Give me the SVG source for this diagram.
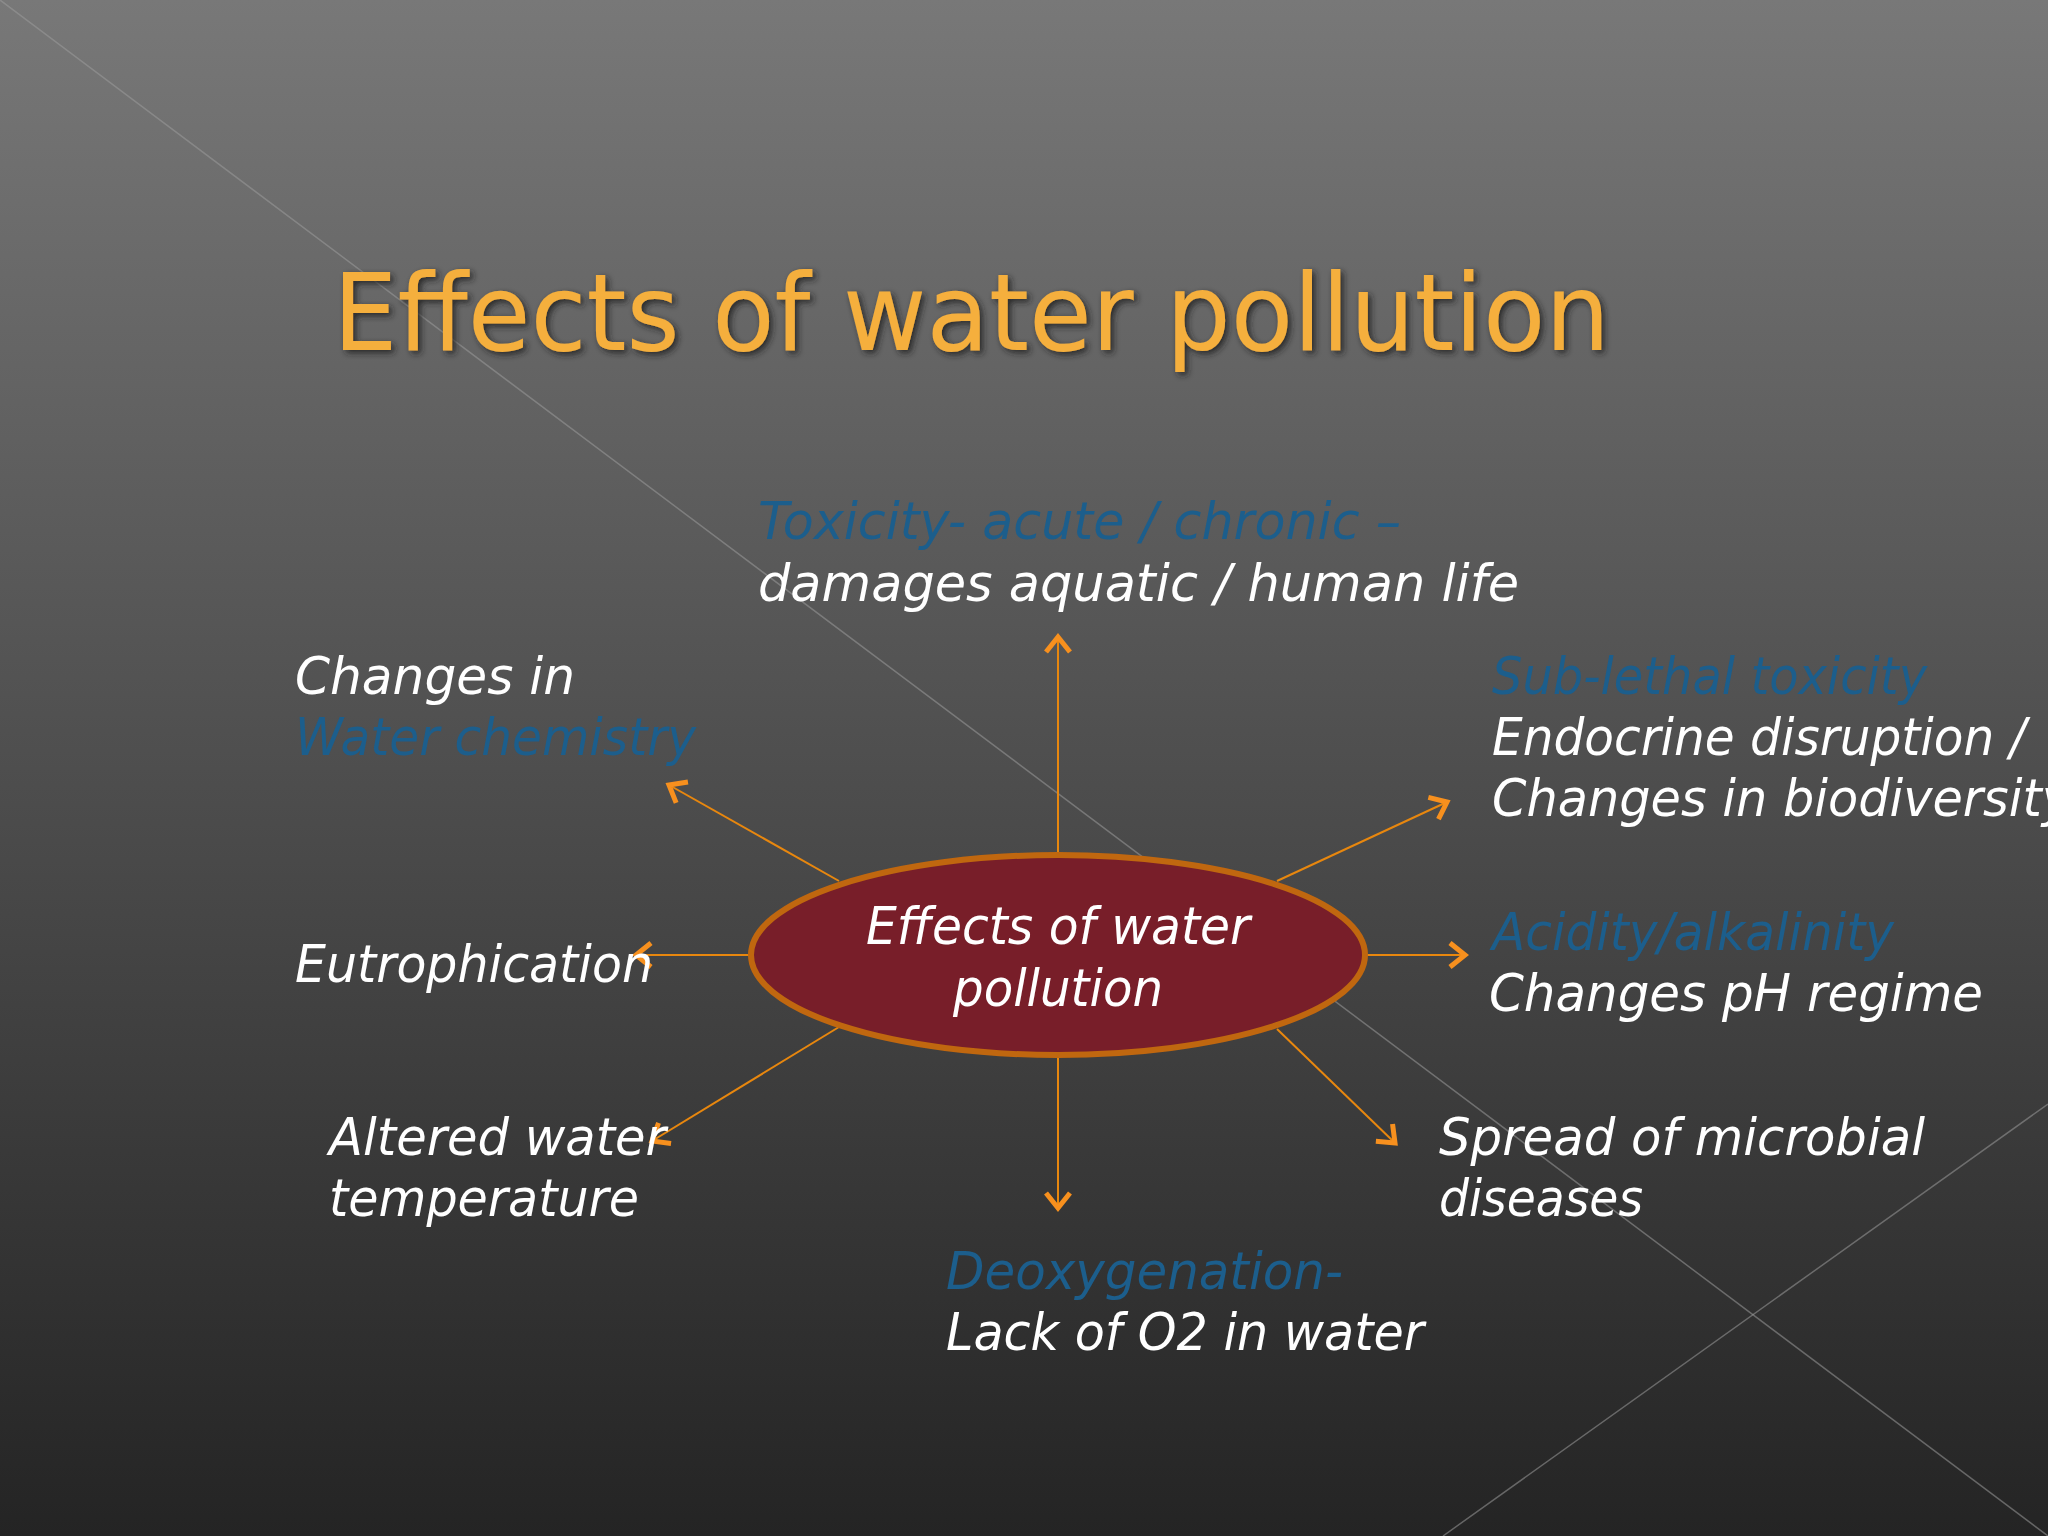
<svg xmlns="http://www.w3.org/2000/svg" width="2048" height="1536" viewBox="0 0 2048 1536">
<defs>
<linearGradient id="bg" x1="0" y1="0" x2="0" y2="1">
<stop offset="0" stop-color="#787878"/>
<stop offset="1" stop-color="#242424"/>
</linearGradient>
<filter id="shadow" x="-5%" y="-20%" width="110%" height="140%">
<feDropShadow dx="3" dy="3" stdDeviation="3" flood-color="#1a1a1a" flood-opacity="0.85"/>
</filter>
<marker id="chev" markerUnits="userSpaceOnUse" markerWidth="40" markerHeight="40" viewBox="-25 -20 40 40" refX="0" refY="0" orient="auto" overflow="visible">
<path d="M-15,-12 L0,0 L-15,12" fill="none" stroke="#F7901E" stroke-width="5"/>
</marker>
<style>
.lbl{font-family:"DejaVu Sans","Liberation Sans",sans-serif;font-style:italic;font-size:52px;fill:#ffffff}
.blue{fill:#1C5E8C}
.conn{stroke:#E8870E;stroke-width:2;fill:none;marker-end:url(#chev)}
.deco{stroke:#9a9a9a;stroke-opacity:0.55;stroke-width:1.5;fill:none}
</style>
</defs>
<rect x="0" y="0" width="2048" height="1536" fill="url(#bg)"/>
<g id="decoration">
<line class="deco" x1="0" y1="0" x2="2048" y2="1536"/>
<line class="deco" x1="1443" y1="1536" x2="2048" y2="1104"/>
</g>
<g id="title">
<text x="333" y="350" font-family="DejaVu Sans, Liberation Sans, sans-serif" font-size="107" fill="#F5AF3C" textLength="1277" lengthAdjust="spacingAndGlyphs" filter="url(#shadow)">Effects of water pollution</text>
</g>
<g id="connectors">
<line class="conn" x1="1058" y1="855" x2="1058" y2="637"/>
<line class="conn" x1="1058" y1="1056" x2="1058" y2="1208"/>
<line class="conn" x1="751" y1="955" x2="636" y2="955"/>
<line class="conn" x1="1365" y1="955" x2="1465" y2="955"/>
<line class="conn" x1="839" y1="881" x2="669" y2="785"/>
<line class="conn" x1="1277" y1="881" x2="1447" y2="802"/>
<line class="conn" x1="839" y1="1027" x2="652" y2="1141"/>
<line class="conn" x1="1277" y1="1029" x2="1395" y2="1143"/>
</g>
<g id="center">
<ellipse cx="1058" cy="955" rx="307" ry="100" fill="#781E29" stroke="#C0670F" stroke-width="6"/>
<text class="lbl" x="1058" y="944" text-anchor="middle" textLength="384" lengthAdjust="spacingAndGlyphs">Effects of water</text>
<text class="lbl" x="1058" y="1006" text-anchor="middle" textLength="210" lengthAdjust="spacingAndGlyphs">pollution</text>
</g>
<g id="toxicity">
<text class="lbl blue" x="758" y="539" textLength="643" lengthAdjust="spacingAndGlyphs">Toxicity- acute / chronic –</text>
<text class="lbl" x="758" y="601" textLength="761" lengthAdjust="spacingAndGlyphs">damages aquatic / human life</text>
</g>
<g id="water-chemistry">
<text class="lbl" x="295" y="694" textLength="280" lengthAdjust="spacingAndGlyphs">Changes in</text>
<text class="lbl blue" x="295" y="755" textLength="401" lengthAdjust="spacingAndGlyphs">Water chemistry</text>
</g>
<g id="sub-lethal">
<text class="lbl blue" x="1492" y="694" textLength="435" lengthAdjust="spacingAndGlyphs">Sub-lethal toxicity</text>
<text class="lbl" x="1492" y="755" textLength="534" lengthAdjust="spacingAndGlyphs">Endocrine disruption /</text>
<text class="lbl" x="1492" y="816" textLength="579" lengthAdjust="spacingAndGlyphs">Changes in biodiversity</text>
</g>
<g id="eutrophication">
<text class="lbl" x="295" y="982" textLength="358" lengthAdjust="spacingAndGlyphs">Eutrophication</text>
</g>
<g id="acidity">
<text class="lbl blue" x="1492" y="950" textLength="402" lengthAdjust="spacingAndGlyphs">Acidity/alkalinity</text>
<text class="lbl" x="1489" y="1011" textLength="494" lengthAdjust="spacingAndGlyphs">Changes pH regime</text>
</g>
<g id="temperature">
<text class="lbl" x="329" y="1155" textLength="337" lengthAdjust="spacingAndGlyphs">Altered water</text>
<text class="lbl" x="329" y="1216" textLength="310" lengthAdjust="spacingAndGlyphs">temperature</text>
</g>
<g id="microbial">
<text class="lbl" x="1439" y="1155" textLength="486" lengthAdjust="spacingAndGlyphs">Spread of microbial</text>
<text class="lbl" x="1439" y="1216" textLength="204" lengthAdjust="spacingAndGlyphs">diseases</text>
</g>
<g id="deoxygenation">
<text class="lbl blue" x="946" y="1289" textLength="397" lengthAdjust="spacingAndGlyphs">Deoxygenation-</text>
<text class="lbl" x="946" y="1350" textLength="478" lengthAdjust="spacingAndGlyphs">Lack of O2 in water</text>
</g>
</svg>
